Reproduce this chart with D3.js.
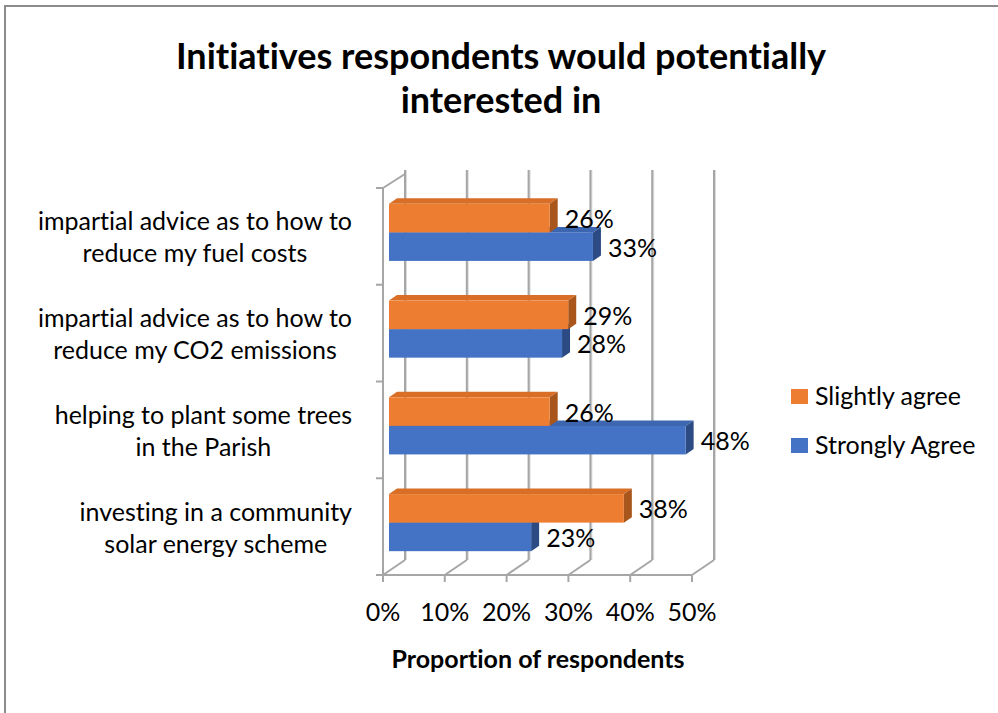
<!DOCTYPE html>
<html><head><meta charset="utf-8">
<script src="https://cdn.jsdelivr.net/npm/d3@7/dist/d3.min.js"></script>
<style>body{margin:0;background:#fff;} svg{display:block;font-family:Lato,"Open Sans",sans-serif;font-variant-ligatures:none;}</style>
</head><body>
<svg id="c" width="998" height="713"></svg>
<script>
const titleLines = ["Initiatives respondents would potentially", "interested in"];
const categories = [
  "impartial advice as to how to reduce my fuel costs",
  "impartial advice as to how to reduce my CO2 emissions",
  "helping to plant some trees in the Parish",
  "investing in a community solar energy scheme"
];
const categoryLines = [
  ["impartial advice as to how to", "reduce my fuel costs"],
  ["impartial advice as to how to", "reduce my CO2 emissions"],
  ["helping to plant some trees", "in the Parish"],
  ["investing in a community", "solar energy scheme"]
];
const seriesNames = ["Slightly agree", "Strongly Agree"];
const slightlyAgree = [26, 29, 26, 38];
const stronglyAgree = [33, 28, 48, 23];
const xTicks = [0, 10, 20, 30, 40, 50];
const xTickLabels = ["0%", "10%", "20%", "30%", "40%", "50%"];
const axisTitle = "Proportion of respondents";

const colors = {
  "Slightly agree": {front: "#ED7D31", top: "#D96F27", side: "#A9561C"},
  "Strongly Agree": {front: "#4472C4", top: "#3D66B0", side: "#2C4B85"}
};

const svg = d3.select("#c");
// frame
svg.append("rect").attr("x", 5).attr("y", 6).attr("width", 1100).attr("height", 900)
  .attr("fill", "none").attr("stroke", "#8c8c8c").attr("stroke-width", 2);

const x = d3.scaleLinear().domain([0, 50]).range([383, 692]);
const y = d3.scaleBand().domain(categories).range([188, 575]).paddingInner(0.41).paddingOuter(0.205);
const yOuter = d3.scaleBand().domain(categories).range([188, 575]);
const ySub = d3.scaleBand().domain(seriesNames).range([0, y.bandwidth()]);
const DX = 22, DY = -15;      // full depth
const BX = 6, BY = -4;        // bar front plane offset
const BDX = 8, BDY = -5.5;    // bar depth

const grid = "#a6a6a6";
const g = svg.append("g");
// back wall gridlines
xTicks.forEach(t => {
  g.append("line").attr("x1", x(t) + DX + 1).attr("x2", x(t) + DX + 1)
    .attr("y1", 170).attr("y2", 575 + DY).attr("stroke", "#dcdcdc").attr("stroke-width", 2);
  g.append("line").attr("x1", x(t) + DX).attr("x2", x(t) + DX)
    .attr("y1", 170).attr("y2", 575 + DY).attr("stroke", grid).attr("stroke-width", 2);
  // floor diagonals
  g.append("line").attr("x1", x(t)).attr("y1", 575).attr("x2", x(t) + DX).attr("y2", 575 + DY)
    .attr("stroke", grid).attr("stroke-width", 2);
});
// left wall top diagonal
g.append("line").attr("x1", 383).attr("y1", 188).attr("x2", 383 + DX).attr("y2", 188 + DY + 1)
  .attr("stroke", grid).attr("stroke-width", 2);
// front left axis
g.append("line").attr("x1", 383).attr("x2", 383).attr("y1", 188).attr("y2", 575)
  .attr("stroke", grid).attr("stroke-width", 2);
// left ticks
const bounds = categories.map(c => yOuter(c)).concat([575]);
bounds.forEach(b => g.append("line").attr("x1", 376).attr("x2", 383).attr("y1", b).attr("y2", b)
  .attr("stroke", grid).attr("stroke-width", 2));
// bottom axis
g.append("line").attr("x1", 376).attr("x2", 692).attr("y1", 575).attr("y2", 575)
  .attr("stroke", grid).attr("stroke-width", 2);
xTicks.forEach(t => g.append("line").attr("x1", x(t)).attr("x2", x(t)).attr("y1", 575).attr("y2", 582)
  .attr("stroke", grid).attr("stroke-width", 2));

// bars
const data = categories.map((c, i) => ({
  cat: c,
  vals: [{s: "Strongly Agree", v: stronglyAgree[i]}, {s: "Slightly agree", v: slightlyAgree[i]}]
}));
const bars = svg.append("g");
data.forEach(d => {
  d.vals.forEach(b => {
    const x0 = x(0) + BX, x1 = x(b.v) + BX;
    const y0 = y(d.cat) + BY + ySub(b.s), y1 = y0 + ySub.bandwidth();
    const col = colors[b.s];
    bars.append("path").attr("d", `M${x0},${y0} L${x0 + BDX},${y0 + BDY} L${x1 + BDX},${y0 + BDY} L${x1},${y0} Z`)
      .attr("fill", col.top);
    bars.append("path").attr("d", `M${x1},${y0} L${x1 + BDX},${y0 + BDY} L${x1 + BDX},${y1 + BDY} L${x1},${y1} Z`)
      .attr("fill", col.side);
    bars.append("rect").attr("x", x0).attr("y", y0).attr("width", x1 - x0).attr("height", y1 - y0)
      .attr("fill", col.front);
  });
});
// value labels
data.forEach(d => {
  d.vals.forEach(b => {
    const yc = y(d.cat) + BY + ySub(b.s) + ySub.bandwidth() / 2;
    svg.append("text").attr("x", x(b.v) + BX + BDX + 7).attr("y", yc + 10)
      .attr("font-size", 25).attr("fill", "#000").text(b.v + "%");
  });
});

// category labels: block right-aligned at 352, lines centred within block
categories.forEach((c, i) => {
  const yc = yOuter(c) + yOuter.bandwidth() / 2;
  const lines = categoryLines[i];
  const texts = lines.map((l, j) => svg.append("text").attr("y", yc - 6 + j * 32)
    .attr("text-anchor", "middle").attr("font-size", 25).text(l));
  const maxW = d3.max(texts, t => t.node().getComputedTextLength());
  texts.forEach(t => t.attr("x", 352 - maxW / 2));
});

// x tick labels
xTicks.forEach((t, i) => svg.append("text").attr("x", x(t)).attr("y", 621).attr("text-anchor", "middle")
  .attr("font-size", 25).text(xTickLabels[i]));

// axis title
svg.append("text").attr("x", 538).attr("y", 668).attr("text-anchor", "middle")
  .attr("font-size", 25).attr("font-weight", "bold").text(axisTitle);

// title
titleLines.forEach((t, i) => svg.append("text").attr("x", 501).attr("y", 69 + i * 44)
  .attr("text-anchor", "middle").attr("font-size", 36).attr("font-weight", "bold").text(t));

// legend
seriesNames.forEach((s, i) => {
  const ly = 389 + i * 49;
  svg.append("rect").attr("x", 791).attr("y", ly).attr("width", 17).attr("height", 15).attr("fill", colors[s].front);
  svg.append("text").attr("x", 815).attr("y", ly + 16).attr("font-size", 25).text(s);
});
</script>
</body></html>
